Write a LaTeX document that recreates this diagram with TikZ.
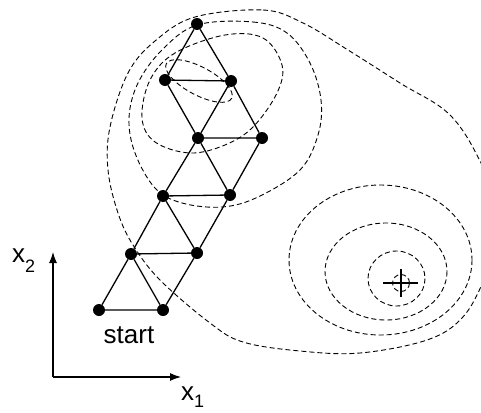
\documentclass[tikz,border=0pt]{standalone}
\usepackage{fontspec}
\setmainfont{Liberation Sans}
\usetikzlibrary{arrows.meta}

\tikzset{
  vtx/.style={circle,fill=black,inner sep=0pt,minimum size=12pt},
  contour/.style={line width=0.9pt,dash pattern=on 5pt off 3pt},
  edge/.style={line width=1.3pt},
  axis/.style={line width=1.1pt,-{Latex[length=11pt,width=8pt]}},
  lbl/.style={font=\fontsize{26}{30}\selectfont,inner sep=0pt}
}

\begin{document}
\begin{tikzpicture}[x=1pt,y=-1pt]
    \useasboundingbox (0,0) rectangle (481,412);
    % level lines
    \begin{scope}
    \clip (0,0) rectangle (481,412);
    \draw[contour] plot[smooth cycle,tension=0.6] coordinates {
      (195,17) (263,10) (303,23) (348,50) (400,83) (450,115) (482,165) (505,225)
      (484,280) (462,318) (427,340) (360,353) (300,351) (243,342) (210,323)
      (160,280) (133,245) (118,213) (108,170) (110,127) (128,73) (155,41)};
    \draw[contour] plot[smooth cycle,tension=0.6] coordinates {
      (197,25) (253,22) (287,33) (310,63) (321,100) (318,135) (300,170) (258,197)
      (222,207) (182,203) (155,188) (135,153) (129,118) (138,83) (162,50)};
    \draw[contour] plot[smooth cycle,tension=0.6] coordinates {
      (225,35) (263,38) (282,65) (277,93) (253,127) (225,145) (190,153)
      (155,142) (142,118) (150,80) (175,53)};
    \draw[contour,rotate around={-28:(199,81)}] (199,81) ellipse (37 and 14);
    \end{scope}
    \draw[contour] (380.5,260) ellipse (91.5 and 75);
    \draw[contour] (386,271.5) ellipse (61 and 48.5);
    \draw[contour] (396.5,278.5) ellipse (28.5 and 27.5);
    \draw[contour] (401,283) circle (8.5);
    % minimum
    \draw[line width=1.1pt] (383,283) -- (418,283);
    \draw[line width=1.1pt] (401,269) -- (401,297);
    % simplex
    \node[vtx] (v1) at (99,310) {};
    \node[vtx] (v2) at (163,310) {};
    \node[vtx] (v3) at (131,254) {};
    \node[vtx] (v4) at (197,253) {};
    \node[vtx] (v5) at (163,196) {};
    \node[vtx] (v6) at (230,195) {};
    \node[vtx] (v7) at (198,138) {};
    \node[vtx] (v8) at (262,138) {};
    \node[vtx] (v9) at (165,80) {};
    \node[vtx] (v10) at (231,81) {};
    \node[vtx] (v11) at (197,24) {};
    \draw[edge] (v1)--(v2)--(v3)--(v1);
    \draw[edge] (v3)--(v4)--(v2);
    \draw[edge] (v3)--(v5)--(v4)--(v6)--(v5);
    \draw[edge] (v5)--(v7)--(v6)--(v8)--(v7);
    \draw[edge] (v7)--(v9)--(v10)--(v7);
    \draw[edge] (v10)--(v8);
    \draw[edge] (v9)--(v11)--(v10);
    \node[lbl,anchor=base] (start) at (129,343) {start};
    % axes
    \coordinate (o) at (53,377);
    \coordinate (ytip) at (53,252);
    \coordinate (xtip) at (181,377);
    \draw[axis] (o)--(ytip);
    \draw[axis] (o)--(xtip);
    \node[lbl,anchor=base west] (xtwo) at (12,262) {x\raisebox{-10pt}{\fontsize{18}{20}\selectfont 2}};
    \node[lbl,anchor=base west] (xone) at (181,400) {x\raisebox{-7pt}{\fontsize{18}{20}\selectfont 1}};
\end{tikzpicture}
\end{document}
